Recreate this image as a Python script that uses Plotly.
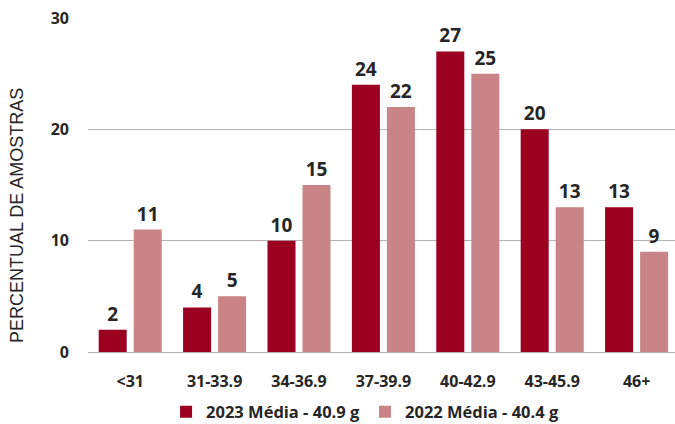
import plotly.graph_objects as go

categories = ["<31", "31-33.9", "34-36.9", "37-39.9", "40-42.9", "43-45.9", "46+"]
values_2023 = [2, 4, 10, 24, 27, 20, 13]
values_2022 = [11, 5, 15, 22, 25, 13, 9]
series_names = ["2023 Média - 40.9 g", "2022 Média - 40.4 g"]
y_ticks = [0, 10, 20, 30]
y_title = "PERCENTUAL DE AMOSTRAS"

color_2023 = "#9B0020"
color_2022 = "#C88486"
text_color = "#262626"
font_family = "Open Sans, Arial, sans-serif"

fig = go.Figure()
for name, vals, col in [(series_names[0], values_2023, color_2023),
                        (series_names[1], values_2022, color_2022)]:
    fig.add_trace(go.Bar(
        x=categories, y=vals, name=name,
        marker=dict(color=col, line=dict(width=0)),
        text=[str(v) for v in vals], textposition="outside",
        textfont=dict(size=19, color=text_color, family=font_family, weight="bold"),
        cliponaxis=False,
    ))

# vertical axis caption, placed a little below the plot's vertical centre
fig.add_annotation(
    text=y_title, textangle=-90, showarrow=False,
    xref="paper", yref="paper", x=-0.121, y=0.41,
    xanchor="center", yanchor="middle",
    font=dict(size=18, color=text_color, family="Liberation Sans, Arial, sans-serif"),
)

fig.update_layout(
    width=675, height=424,
    margin=dict(l=88, r=0, t=18, b=72, autoexpand=False),
    paper_bgcolor="white", plot_bgcolor="white",
    barmode="group", bargap=0.17, bargroupgap=0.2,
    font=dict(family=font_family, color=text_color),
    showlegend=True,
    legend=dict(orientation="h", x=0.472, xanchor="center", y=-0.18, yanchor="middle",
                font=dict(size=16.5, color=text_color, family=font_family, weight="bold"),
                itemwidth=30, traceorder="normal"),
    xaxis=dict(range=[-0.5, 6.455], showgrid=False, showline=False, ticks="",
               automargin=False,
               tickfont=dict(size=16, color=text_color, family=font_family, weight="bold"),
               ticklabelstandoff=18),
    yaxis=dict(range=[0, 30], tickvals=y_ticks, showgrid=True, gridcolor="#B3B3B3",
               gridwidth=1.2, zeroline=True, zerolinecolor="#B3B3B3", zerolinewidth=1.2,
               automargin=False,
               tickfont=dict(size=16, color=text_color, family=font_family, weight="bold"),
               ticklabelstandoff=18),
)

fig.write_html("out.html")
